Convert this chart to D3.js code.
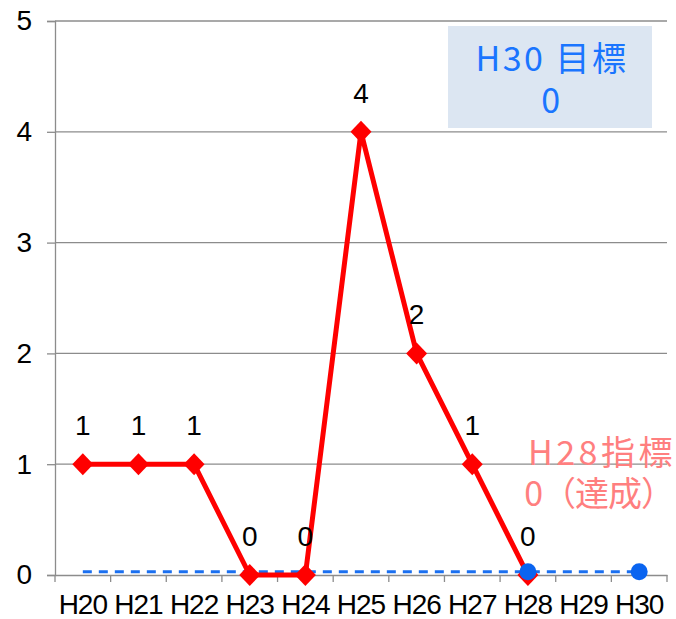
<!DOCTYPE html>
<html><head><meta charset="utf-8">
<script src="https://cdn.jsdelivr.net/npm/d3@7"></script>
<style>body{margin:0;background:#fff;}svg{display:block;}</style>
</head><body>
<svg id="c" width="676" height="619"></svg>
<script>
const categories = ["H20","H21","H22","H23","H24","H25","H26","H27","H28","H29","H30"];
const actual = [1,1,1,0,0,4,2,1,0,null,null];
const target = [0.03,0.03,0.03,0.03,0.03,0.03,0.03,0.03,0.03,0.03,0.03];
const targetPoints = ["H28","H30"];
const yTicks = [0,1,2,3,4,5];

const svg = d3.select("#c");
const m = {l:55, r:667, t:21, b:575};
const x = d3.scaleBand().domain(categories).range([m.l, m.r]);
const y = d3.scaleLinear().domain([0,5]).range([m.b, m.t]);
const cx = d => x(d) + x.bandwidth()/2;
const FONT = "'Liberation Sans', Arial, sans-serif";

// gridlines
svg.append("g").selectAll("line").data(yTicks.filter(d=>d>0)).join("line")
  .attr("x1", m.l).attr("x2", m.r).attr("y1", d=>y(d)).attr("y2", d=>y(d))
  .attr("stroke", "#8c8c8c").attr("stroke-width", 1.3);

// y axis
const ya = svg.append("g").attr("transform", `translate(${m.l},0)`)
  .call(d3.axisLeft(y).tickValues(yTicks).tickFormat(d3.format("d")).tickSize(8).tickPadding(15));
ya.attr("font-size", null).attr("font-family", null);
ya.select(".domain").attr("stroke", "#8c8c8c").attr("stroke-width", 1.3);
ya.selectAll(".tick line").attr("stroke", "#8c8c8c").attr("stroke-width", 1.3);
ya.selectAll("text").style("font-family", FONT).style("font-size", "28px").attr("fill","#000");

// x axis
const xa = svg.append("g").attr("transform", `translate(0,${m.b})`)
  .call(d3.axisBottom(x).tickSize(0).tickPadding(0));
xa.attr("font-size", null).attr("font-family", null);
xa.select(".domain").attr("stroke", "#8c8c8c").attr("stroke-width", 1.3);
xa.selectAll("text").style("font-family", FONT).style("font-size", "28px").attr("fill","#000")
  .attr("dy", null).attr("y", 39).attr("letter-spacing", "-1");
svg.append("g").selectAll("line").data(categories.concat(["__end"])).join("line")
  .attr("x1", (d,i)=> m.l + i*x.bandwidth()).attr("x2", (d,i)=> m.l + i*x.bandwidth())
  .attr("y1", m.b).attr("y2", m.b+7).attr("stroke","#8c8c8c").attr("stroke-width",1.3);

// target dashed line
const tl = d3.line().x((d,i)=>cx(categories[i])).y(d=>y(d));
svg.append("path").datum(target).attr("d", tl).attr("fill","none")
  .attr("stroke","#1a6ff0").attr("stroke-width",3).attr("stroke-dasharray","9,7");

// actual line
const al = d3.line().defined(d=>d!==null).x((d,i)=>cx(categories[i])).y(d=>y(d));
svg.append("path").datum(actual).attr("d", al).attr("fill","none")
  .attr("stroke","#ff0000").attr("stroke-width",5).attr("stroke-linejoin","round");
const pts = actual.map((v,i)=>({c:categories[i], v})).filter(d=>d.v!==null);
svg.append("g").selectAll("path").data(pts).join("path")
  .attr("transform", d=>`translate(${cx(d.c)},${y(d.v)})`)
  .attr("d", "M0,-11L10.5,0L0,11L-10.5,0Z").attr("fill","#ff0000");
svg.append("g").selectAll("text").data(pts).join("text")
  .attr("x", d=>cx(d.c)).attr("y", d=>y(d.v)-29)
  .attr("text-anchor","middle").style("font-family", FONT)
  .style("font-size", "28px").attr("fill","#000").text(d=>d.v);

// target points
svg.append("g").selectAll("circle").data(targetPoints).join("circle")
  .attr("cx", d=>cx(d)).attr("cy", d=>y(target[categories.indexOf(d)]))
  .attr("r", 8.5).attr("fill","#0a64f0");

// H30 target box
svg.append("rect").attr("x",448).attr("y",26).attr("width",204).attr("height",102).attr("fill","#dce6f2");
const bt = svg.append("text").attr("text-anchor","middle").style("font-family","'Noto Sans CJK JP', sans-serif")
  .style("font-size","34px").attr("letter-spacing","2.5").attr("fill","#1a75ff");
bt.append("tspan").attr("x",552).attr("y",71).text("H30 目標");
bt.append("tspan").attr("x",552).attr("y",113).text("0");

// H28 indicator
const pt = svg.append("text").attr("text-anchor","end").style("font-family","'Noto Sans CJK JP', sans-serif")
  .style("font-size","34px").attr("fill","#ff7f7f");
pt.append("tspan").attr("x",676).attr("y",465).attr("letter-spacing","3.5").text("H28指標");
pt.append("tspan").attr("x",674).attr("y",506).attr("letter-spacing","-1").text("0（達成）");
</script>
</body></html>
